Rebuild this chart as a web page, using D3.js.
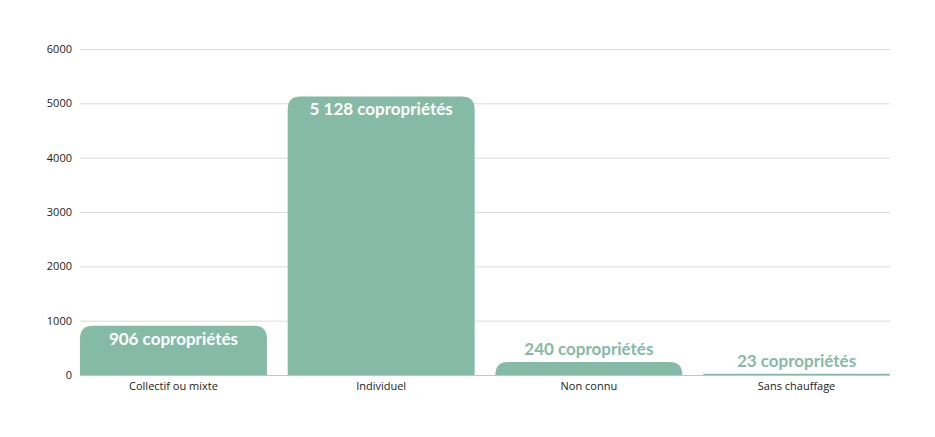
<!DOCTYPE html>
<html>
<head>
<meta charset="utf-8">
<script src="https://cdn.jsdelivr.net/npm/d3@7"></script>
<style>
  body { margin: 0; background: #fff; }
  svg { display: block; }
</style>
</head>
<body>
<div id="chart"></div>
<script>
const categories = ["Collectif ou mixte", "Individuel", "Non connu", "Sans chauffage"];
const counts = [906, 5128, 240, 23];
const valueLabels = ["906 copropriétés", "5 128 copropriétés", "240 copropriétés", "23 copropriétés"];
const yTicks = [0, 1000, 2000, 3000, 4000, 5000, 6000];

const width = 935, height = 437;
const margin = { top: 49, right: 45, bottom: 62, left: 80 };
const innerW = width - margin.left - margin.right;
const innerH = height - margin.top - margin.bottom;
const barColor = "#85baa7";

const svg = d3.select("#chart")
  .append("svg")
  .attr("width", width)
  .attr("height", height);

const g = svg.append("g")
  .attr("transform", `translate(${margin.left},${margin.top})`);

const x = d3.scaleBand()
  .domain(categories)
  .range([0, innerW])
  .paddingInner(0.1)
  .paddingOuter(0);

const y = d3.scaleLinear()
  .domain([0, 6000])
  .range([innerH, 0]);

// grid
g.append("g")
  .selectAll("line")
  .data(yTicks)
  .join("line")
  .attr("x1", 0)
  .attr("x2", innerW)
  .attr("y1", d => y(d) + 0.5)
  .attr("y2", d => y(d) + 0.5)
  .attr("stroke", d => d === 0 ? "#c4c4c4" : "#dcdcdc")
  .attr("stroke-width", 1);

// y tick labels
g.append("g")
  .selectAll("text")
  .data(yTicks)
  .join("text")
  .attr("x", -8)
  .attr("y", d => y(d))
  .attr("dy", "0.35em")
  .attr("text-anchor", "end")
  .attr("font-family", "'Open Sans', sans-serif")
  .attr("font-size", 11)
  .attr("fill", "#222")
  .text(d => d);

// rounded-top bars
function barPath(x0, w, yTop, yBot) {
  const r = Math.min(13, yBot - yTop, w / 2);
  return `M${x0},${yBot}V${yTop + r}Q${x0},${yTop} ${x0 + r},${yTop}` +
    `H${x0 + w - r}Q${x0 + w},${yTop} ${x0 + w},${yTop + r}V${yBot}Z`;
}

const data = categories.map((c, i) => ({ cat: c, v: counts[i], label: valueLabels[i] }));

g.selectAll(".bar")
  .data(data)
  .join("path")
  .attr("class", "bar")
  .attr("fill", barColor)
  .attr("d", d => barPath(x(d.cat), x.bandwidth(), y(d.v), y(0)));

// value labels
g.selectAll(".val")
  .data(data)
  .join("text")
  .attr("class", "val")
  .attr("x", d => x(d.cat) + x.bandwidth() / 2)
  .attr("y", d => (y(0) - y(d.v)) > 40 ? y(d.v) + 19 : y(d.v) - 7)
  .attr("text-anchor", "middle")
  .attr("font-family", "Lato, 'Open Sans', sans-serif")
  .attr("font-weight", "bold")
  .attr("font-size", 17)
  .attr("fill", d => (y(0) - y(d.v)) > 40 ? "#ffffff" : barColor)
  .text(d => d.label);

// category labels
g.append("g")
  .selectAll("text")
  .data(categories)
  .join("text")
  .attr("x", d => x(d) + x.bandwidth() / 2)
  .attr("y", innerH + 15)
  .attr("text-anchor", "middle")
  .attr("font-family", "'Open Sans', sans-serif")
  .attr("font-size", 11)
  .attr("fill", "#222")
  .text(d => d);
</script>
</body>
</html>
